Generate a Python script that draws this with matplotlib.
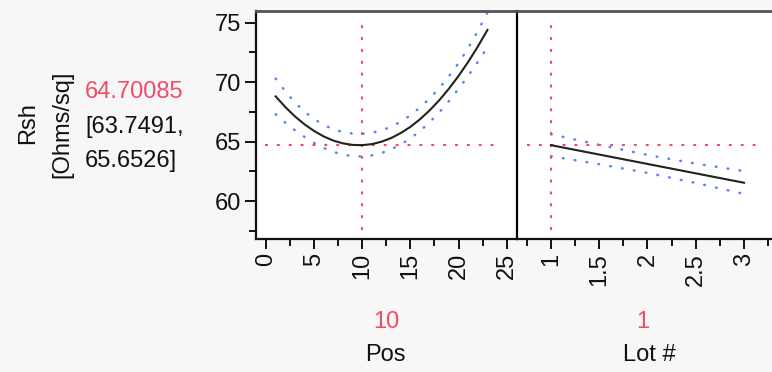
import matplotlib
matplotlib.use('Agg')
from matplotlib import pyplot as plt
from matplotlib.ticker import MultipleLocator, FuncFormatter

# prediction profiler values
pos = [1, 2, 3, 4, 5, 6, 7, 8, 9, 10, 11, 12, 13, 14, 15, 16, 17, 18, 19, 20, 21, 22, 23]
rsh_pos = [68.80, 67.91, 67.12, 66.45, 65.89, 65.43, 65.08, 64.85, 64.72, 64.70, 64.79, 64.99,
           65.30, 65.72, 66.24, 66.88, 67.63, 68.48, 69.45, 70.52, 71.70, 72.99, 74.39]
upper_pos = [70.30, 69.23, 68.28, 67.51, 66.89, 66.40, 66.03, 65.80, 65.67, 65.65, 65.74, 65.94,
             66.25, 66.68, 67.21, 67.87, 68.63, 69.50, 70.50, 71.60, 72.87, 74.29, 75.84]
lower_pos = [67.30, 66.59, 65.96, 65.39, 64.89, 64.46, 64.13, 63.90, 63.77, 63.75, 63.84, 64.04,
             64.35, 64.76, 65.27, 65.89, 66.63, 67.46, 68.40, 69.44, 70.53, 71.69, 72.94]

lot = [1, 1.5, 2, 2.5, 3]
rsh_lot = [64.70, 63.91, 63.12, 62.33, 61.54]
upper_lot = [65.62, 64.72, 63.88, 63.15, 62.52]
lower_lot = [63.77, 63.10, 62.37, 61.52, 60.60]

pos_cur = 10
lot_cur = 1
rsh_cur = 64.70085
ci_txt = ['[63.7491,', '65.6526]']

plt.rcParams['font.family'] = ['Liberation Sans', 'DejaVu Sans']
fs = 17
red = '#f24b67'
blue = '#5b86f2'
W, H = 772, 372

fig = plt.figure(figsize=(W/100, H/100), dpi=100, facecolor='#f7f7f7')
ax1 = fig.add_axes([256/W, 1-239/H, 261/W, 228/H])
ax2 = fig.add_axes([517/W, 1-239/H, 255/W, 228/H])

def fmt(v, p):
    return ('%g' % v)

for ax in (ax1, ax2):
    ax.set_facecolor('white')
    ax.set_ylim(56.81, 75.98)
    ax.spines['top'].set_color('#555555')
    ax.spines['top'].set_linewidth(2)
    for s in ('left', 'bottom'):
        ax.spines[s].set_color('#111111')
        ax.spines[s].set_linewidth(1.6)
    ax.spines['right'].set_visible(False)
    ax.tick_params(axis='x', which='major', length=7, width=1.4, pad=3,
                   labelsize=fs, labelrotation=90, colors='#111111')
    ax.tick_params(axis='x', which='minor', length=5, width=1.4, colors='#111111')
    ax.xaxis.set_major_formatter(FuncFormatter(fmt))

# left panel: Pos
ax1.plot(pos, rsh_pos, color='#222222', lw=1.5, zorder=3)
for band in (upper_pos, lower_pos):
    ax1.plot(pos, band, color=blue, lw=1.8, dashes=(0.3, 4.5), dash_capstyle='round', zorder=2)
ax1.axvline(pos_cur, ymin=0.04, ymax=0.95, color=red, lw=1.5, dashes=(1.4, 4.3))
ax1.axhline(rsh_cur, xmin=0.035, xmax=0.927, color=red, lw=1.5, dashes=(1.4, 4.3))
ax1.set_xlim(-1.04, 26.07)
ax1.xaxis.set_major_locator(MultipleLocator(5))
ax1.xaxis.set_minor_locator(MultipleLocator(2.5))
ax1.yaxis.set_major_locator(MultipleLocator(5))
ax1.yaxis.set_minor_locator(MultipleLocator(2.5))
ax1.tick_params(axis='y', which='major', length=8, width=1.4, pad=3, labelsize=fs, colors='#111111')
ax1.tick_params(axis='y', which='minor', length=5, width=1.4, colors='#111111')

# right panel: Lot #
ax2.plot(lot, rsh_lot, color='#222222', lw=1.5, zorder=3)
for band in (upper_lot, lower_lot):
    ax2.plot(lot, band, color=blue, lw=1.8, dashes=(0.3, 4.5), dash_capstyle='round', zorder=2)
ax2.axvline(lot_cur, ymin=0.04, ymax=0.95, color=red, lw=1.5, dashes=(1.4, 4.3))
ax2.axhline(rsh_cur, xmin=0.04, xmax=0.945, color=red, lw=1.5, dashes=(1.4, 4.3))
ax2.set_xlim(0.648, 3.29)
ax2.xaxis.set_major_locator(MultipleLocator(0.5))
ax2.xaxis.set_minor_locator(MultipleLocator(0.25))
ax2.set_yticks([])
ax2.spines['left'].set_color('#000000')

def txt(x, y, s, **kw):
    fig.text(x/W, 1-y/H, s, fontsize=fs, **kw)

txt(28, 123, 'Rsh', rotation=90, ha='center', va='center', color='#111111')
txt(62, 124, '[Ohms/sq]', rotation=90, ha='center', va='center', color='#111111')
txt(85, 92, '%.5f' % rsh_cur, ha='left', va='center', color=red)
txt(85, 127, ci_txt[0], ha='left', va='center', color='#111111')
txt(85, 161, ci_txt[1], ha='left', va='center', color='#111111')
txt(386, 322, str(pos_cur), ha='center', va='center', color=red)
txt(385, 355, 'Pos', ha='center', va='center', color='#111111')
txt(643, 322, str(lot_cur), ha='center', va='center', color=red)
txt(649, 355, 'Lot #', ha='center', va='center', color='#111111')

fig.savefig('out.png', dpi=100, facecolor=fig.get_facecolor())
